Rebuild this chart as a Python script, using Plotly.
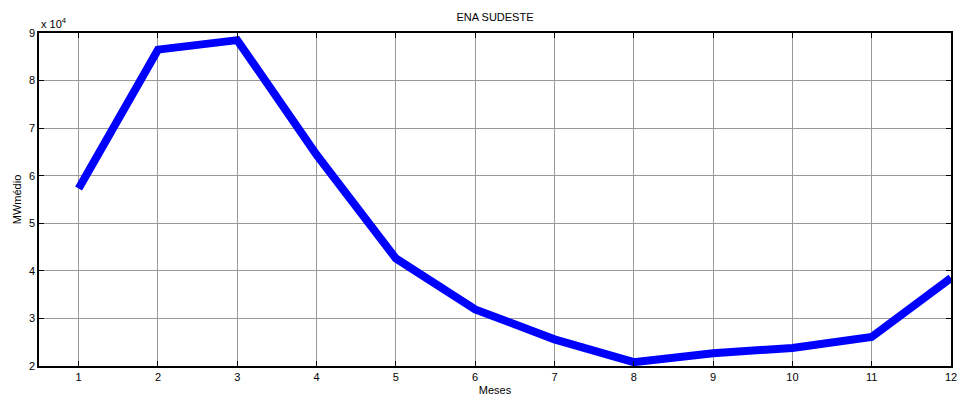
import plotly.graph_objects as go

# Monthly ENA values (MWmédio) for the Sudeste subsystem
months = [1, 2, 3, 4, 5, 6, 7, 8, 9, 10, 11, 12]
ena_sudeste = [57300, 86500, 88500, 64400, 42600, 31900, 25600, 20800, 22700, 23800, 26100, 38500]

x_ticks = months
y_ticks = [20000, 30000, 40000, 50000, 60000, 70000, 80000, 90000]
y_tick_labels = ["2", "3", "4", "5", "6", "7", "8", "9"]

FONT = "Liberation Sans, Arial, sans-serif"

fig = go.Figure()
fig.add_trace(go.Scatter(
    x=months,
    y=ena_sudeste,
    mode="lines",
    line=dict(color="#0000FF", width=8),
    showlegend=False,
))

axis_common = dict(
    automargin=False,
    ticklabeloverflow="allow",
    showline=True,
    linecolor="black",
    linewidth=1.5,
    mirror="ticks",
    ticks="inside",
    ticklen=5,
    tickwidth=1,
    tickcolor="black",
    showgrid=True,
    gridcolor="#9a9a9a",
    gridwidth=1,
    zeroline=False,
    tickfont=dict(family=FONT, size=11, color="black"),
)

fig.update_xaxes(
    range=[0.5, 12],
    tickmode="array",
    tickvals=x_ticks,
    ticktext=[str(m) for m in x_ticks],
    title=dict(text="Meses", font=dict(family=FONT, size=11, color="black"), standoff=6),
    **axis_common,
)
fig.update_yaxes(
    range=[20000, 90000],
    tickmode="array",
    tickvals=y_ticks,
    ticktext=y_tick_labels,
    title=dict(text="MWmédio", font=dict(family=FONT, size=11, color="black"), standoff=5),
    **axis_common,
)

fig.update_layout(
    width=957,
    height=396,
    margin=dict(l=39, r=6, t=33, b=30),
    paper_bgcolor="white",
    plot_bgcolor="white",
    title=dict(
        text="ENA SUDESTE",
        x=0.5,
        xref="paper",
        xanchor="center",
        y=1 - 17 / 396,
        yanchor="middle",
        font=dict(family=FONT, size=11, color="black"),
    ),
    annotations=[
        dict(
            text="x 10<sup>4</sup>",
            xref="paper", yref="paper",
            x=0, y=1,
            xanchor="left", yanchor="bottom",
            yshift=1,
            showarrow=False,
            font=dict(family=FONT, size=11, color="black"),
        )
    ],
)

fig.write_html("out.html")
